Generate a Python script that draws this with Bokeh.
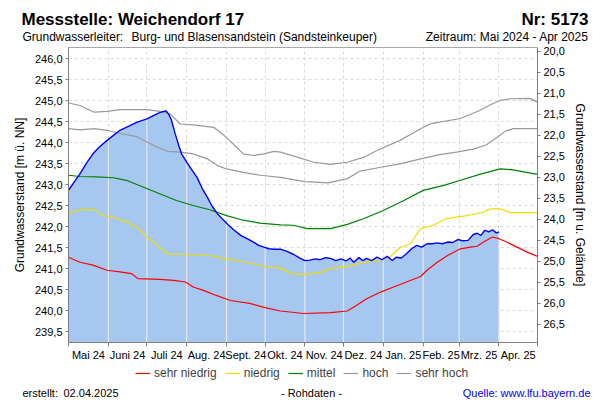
import numpy as np
import pandas as pd
from bokeh.plotting import figure
from bokeh.layouts import column
from bokeh.models import (Range1d, LinearAxis, FixedTicker, CustomJSTickFormatter,
                          Legend, LegendItem, Label)
from bokeh.embed import file_html
from bokeh.resources import INLINE

FONT = "Liberation Sans"
PERIOD_START = "2024-05-01"
PERIOD_END = "2025-05-01"
GROUND = 266.18  # Gelaendehoehe [m ü. NN]

# ---- data (x = days since 2024-05-01) ----
blue_day = [0, 4, 9, 14, 19, 24, 30, 35, 40, 47, 53, 61, 66, 70, 74, 76, 78, 80, 83, 86,
            88, 92, 96, 100, 104, 108, 112, 116, 120, 124, 129, 134, 139, 144, 148, 152, 156, 160, 165, 170,
            175, 180, 184, 188, 192, 196, 200, 204, 208, 212, 216, 219, 222, 226, 229, 232, 236, 240, 244, 248,
            252, 255, 259, 263, 267, 271, 275, 279, 283, 287, 291, 295, 299, 303, 307, 311, 315, 318, 321, 324,
            327, 330, 333, 335]
blue_level = [242.87, 243.05, 243.27, 243.52, 243.74, 243.90, 244.06, 244.18, 244.30, 244.40,
              244.49, 244.57, 244.65, 244.71, 244.75, 244.76, 244.68, 244.55, 244.22, 243.92,
              243.74, 243.54, 243.36, 243.18, 242.92, 242.71, 242.48, 242.31, 242.18, 242.06,
              241.92, 241.80, 241.72, 241.64, 241.56, 241.52, 241.48, 241.47, 241.47, 241.42,
              241.35, 241.26, 241.20, 241.21, 241.24, 241.22, 241.27, 241.25, 241.20, 241.24,
              241.19, 241.26, 241.16, 241.27, 241.20, 241.25, 241.20, 241.28, 241.22, 241.30,
              241.20, 241.28, 241.26, 241.36, 241.48, 241.56, 241.52, 241.60, 241.60, 241.62,
              241.60, 241.64, 241.63, 241.70, 241.67, 241.68, 241.82, 241.85, 241.80, 241.92,
              241.88, 241.93, 241.86, 241.88]

sehr_niedrig_day = [0, 9, 19, 30, 40, 49, 54, 71, 82, 91, 97, 105, 115, 126, 141, 153, 165, 183, 204, 217,
                    224, 232, 243, 253, 263, 274, 279, 287, 295, 305, 313, 318, 323, 330, 335, 341, 349, 357, 365]
sehr_niedrig = [241.28, 241.16, 241.09, 240.97, 240.93, 240.89, 240.77, 240.75, 240.73, 240.69,
                240.57, 240.49, 240.37, 240.25, 240.18, 240.08, 240.00, 239.94, 239.96, 240.00,
                240.13, 240.29, 240.45, 240.57, 240.69, 240.82, 240.97, 241.16, 241.32, 241.48,
                241.52, 241.54, 241.64, 241.76, 241.72, 241.64, 241.52, 241.40, 241.30]

niedrig_day = [0, 9, 20, 27, 35, 45, 53, 61, 69, 77, 92, 110, 123, 139, 154, 165, 173, 186, 196, 204,
               217, 227, 243, 250, 258, 266, 274, 284, 294, 310, 323, 328, 336, 344, 365]
niedrig = [242.33, 242.41, 242.41, 242.27, 242.23, 242.12, 242.00, 241.76, 241.56, 241.36,
           241.35, 241.32, 241.24, 241.16, 241.05, 241.02, 240.89, 240.87, 240.92, 241.01,
           241.06, 241.14, 241.22, 241.28, 241.51, 241.60, 241.96, 242.04, 242.20, 242.27,
           242.35, 242.43, 242.43, 242.34, 242.34]

mittel_day = [0, 9, 22, 35, 45, 58, 71, 84, 97, 110, 123, 136, 149, 165, 175, 186, 204, 217, 230, 245,
              261, 276, 292, 305, 320, 336, 346, 365]
mittel = [243.23, 243.20, 243.19, 243.17, 243.11, 242.95, 242.79, 242.63, 242.51, 242.41,
          242.27, 242.16, 242.09, 242.05, 242.04, 241.96, 241.96, 242.06, 242.20, 242.39,
          242.63, 242.87, 242.99, 243.11, 243.25, 243.38, 243.36, 243.25]

hoch_day = [0, 9, 20, 30, 40, 53, 61, 69, 77, 87, 97, 108, 116, 123, 136, 149, 165, 184, 202, 217,
            227, 243, 258, 274, 289, 302, 315, 325, 332, 340, 346, 365]
hoch = [244.34, 244.31, 244.34, 244.30, 244.23, 244.15, 244.02, 243.90, 243.80, 243.78,
        243.74, 243.62, 243.46, 243.38, 243.30, 243.23, 243.18, 243.08, 243.05, 243.15,
        243.33, 243.42, 243.50, 243.62, 243.72, 243.78, 243.85, 243.95, 244.10, 244.28,
        244.34, 244.34]

sehr_hoch_day = [0, 9, 20, 30, 40, 61, 71, 79, 87, 97, 113, 121, 128, 136, 144, 152, 160, 165, 178, 191,
                 204, 217, 230, 240, 258, 272, 282, 305, 320, 328, 336, 344, 359, 365]
sehr_hoch = [244.95, 244.89, 244.73, 244.75, 244.79, 244.79, 244.75, 244.69, 244.45, 244.43,
             244.37, 244.18, 243.98, 243.74, 243.70, 243.74, 243.80, 243.78, 243.66, 243.54,
             243.49, 243.54, 243.66, 243.82, 244.06, 244.30, 244.46, 244.58, 244.77, 244.90,
             245.01, 245.05, 245.06, 244.97]

month_labels = ["Mai 24", "Juni 24", "Juli 24", "Aug. 24", "Sept. 24", "Okt. 24", "Nov. 24",
                "Dez. 24", "Jan. 25", "Feb. 25", "Mrz. 25", "Apr. 25"]
left_ticks = [239.5, 240.0, 240.5, 241.0, 241.5, 242.0, 242.5, 243.0, 243.5, 244.0, 244.5,
              245.0, 245.5, 246.0]
right_ticks = [20.0, 20.5, 21.0, 21.5, 22.0, 22.5, 23.0, 23.5, 24.0, 24.5, 25.0, 25.5, 26.0, 26.5]
Y_BOTTOM, Y_TOP = 239.25, 246.27

series = [
    ("sehr niedrig", sehr_niedrig_day, sehr_niedrig, "#ff0000"),
    ("niedrig", niedrig_day, niedrig, "#f2dc00"),
    ("mittel", mittel_day, mittel, "#008000"),
    ("hoch", hoch_day, hoch, "#999999"),
    ("sehr hoch", sehr_hoch_day, sehr_hoch, "#999999"),
]

# ---- helpers ----
EPOCH = pd.Timestamp("1970-01-01")
start = pd.Timestamp(PERIOD_START)


def to_ms(ts):
    return (pd.DatetimeIndex(ts) - EPOCH) / pd.Timedelta(milliseconds=1)


def day_ms(days):
    return np.asarray(to_ms(start + pd.to_timedelta(days, unit="D")), dtype=float)


assert len(blue_day) == len(blue_level)
for _, d, v, _c in series:
    assert len(d) == len(v)

W = 600
HEAD_H, MAIN_H, FOOT_H = 44, 322, 34

month_starts = pd.date_range(PERIOD_START, PERIOD_END, freq="MS")
ms_starts = np.asarray(to_ms(month_starts), dtype=float)
ms_mid = (ms_starts[:-1] + ms_starts[1:]) / 2.0


def no_align(f):
    if "frame_align" in f.properties():
        f.frame_align = False


def text_panel(h):
    f = figure(width=W, height=h, x_range=Range1d(0, W), y_range=Range1d(0, h),
               x_axis_location=None, y_axis_location=None,
               output_backend="svg", toolbar_location=None, min_border=0)
    f.grid.visible = False
    f.outline_line_color = None
    f.background_fill_color = "white"
    f.border_fill_color = "white"
    no_align(f)
    return f


def add_text(f, x, y, text, size, align="left", bold=False, color="#000000"):
    f.add_layout(Label(x=x, y=y, text=text, text_font=FONT, text_font_size=size,
                       text_align=align, text_baseline="alphabetic", text_color=color,
                       text_font_style="bold" if bold else "normal"))


# ---- header ----
head = text_panel(HEAD_H)
add_text(head, 21, 25, "Messstelle: Weichendorf 17", "17px", bold=True)
add_text(head, 588, 25, "Nr: 5173", "17px", align="right", bold=True)
add_text(head, 22, 8, "Grundwasserleiter:", "12px")
add_text(head, 131, 8, "Burg- und Blasensandstein (Sandsteinkeuper)", "12px")
add_text(head, 588, 8, "Zeitraum: Mai 2024 - Apr 2025", "12px", align="right")

# ---- main plot ----
p = figure(width=W, height=MAIN_H, x_axis_type="datetime",
           x_range=Range1d(ms_starts[0], ms_starts[-1]),
           y_range=Range1d(Y_BOTTOM, Y_TOP),
           output_backend="svg", toolbar_location=None,
           min_border_left=68, min_border_right=63, min_border_top=3, min_border_bottom=24)
no_align(p)
p.background_fill_color = "white"
p.border_fill_color = "white"
p.outline_line_color = "#a8a8a8"

p.ygrid.grid_line_color = "#d9d9d9"
p.ygrid.grid_line_dash = "3 3"
p.xgrid.ticker = FixedTicker(ticks=list(ms_starts))
p.xgrid.grid_line_color = "#d9d9d9"
p.xgrid.grid_line_dash = "3 3"

bx = day_ms(blue_day)
p.varea(x=bx, y1=Y_BOTTOM, y2=blue_level, fill_color="#a6c8f0")

inside = [m for m in ms_starts if bx[0] < m <= bx[-1]]
p.segment(x0=inside, x1=inside, y0=[Y_BOTTOM] * len(inside),
          y1=list(np.interp(inside, bx, blue_level)), line_color="#e6e6e6", line_width=1.2)

for name, d, v, col in series:
    p.line(day_ms(d), v, line_color=col, line_width=1.2)

p.line(bx, blue_level, line_color="#0000ff", line_width=1.4)

fmt = CustomJSTickFormatter(code="return tick.toFixed(1).replace('.', ',');")
AX_COL = "#808080"

yl = p.yaxis[0]
yl.ticker = FixedTicker(ticks=left_ticks)
yl.formatter = fmt
yl.axis_label = "Grundwasserstand [m ü. NN]"

yr = LinearAxis(y_range_name="depth", ticker=FixedTicker(ticks=right_ticks), formatter=fmt,
                axis_label="Grundwasserstand [m u. Gelände]")
p.extra_y_ranges = {"depth": Range1d(GROUND - Y_BOTTOM, GROUND - Y_TOP)}
p.add_layout(yr, "right")

for ax in (yl, yr):
    ax.major_tick_out = 3
    ax.major_tick_in = 0
    ax.minor_tick_line_color = None
    ax.major_label_standoff = 3
    ax.axis_label_standoff = 5
    ax.axis_label_text_font = FONT
    ax.axis_label_text_font_size = "12px"
    ax.axis_label_text_font_style = "normal"
    ax.axis_label_text_color = "#000000"
    ax.major_tick_line_color = AX_COL

xa = p.xaxis[0]
xa.ticker = FixedTicker(ticks=list(ms_mid), minor_ticks=list(ms_starts))
xa.formatter = CustomJSTickFormatter(
    args=dict(mids=list(ms_mid), labs=month_labels),
    code="""
let best = 0;
for (let i = 0; i < mids.length; i++) {
  if (Math.abs(mids[i] - tick) < Math.abs(mids[best] - tick)) best = i;
}
return labs[best];
""")
xa.major_tick_line_color = None
xa.major_tick_out = 4
xa.major_tick_in = 0
xa.minor_tick_out = 4
xa.minor_tick_in = 0
xa.minor_tick_line_color = AX_COL
xa.major_label_standoff = 2

for ax in (yl, yr, xa):
    ax.axis_line_color = AX_COL
    ax.major_label_text_font = FONT
    ax.major_label_text_font_size = "11px"
    ax.major_label_text_color = "#000000"

# ---- footer: legend + notes ----
foot = text_panel(FOOT_H)
items = []
for name, d, v, col in series:
    # same series drawn in the footer panel (outside its visible range) as legend keys
    r = foot.line(day_ms(d), v, line_color=col, line_width=1.2)
    items.append(LegendItem(label=name, renderers=[r]))
legend = Legend(items=items, location=(135, 20), orientation="horizontal",
                glyph_width=15, glyph_height=14, label_height=14, label_standoff=4,
                spacing=8, padding=0, margin=0, border_line_color=None,
                background_fill_alpha=0, label_text_font=FONT, label_text_font_size="12px")
foot.add_layout(legend)

add_text(foot, 22, 8, "erstellt:", "11px")
add_text(foot, 63, 8, "02.04.2025", "11px")
add_text(foot, 311, 8, "- Rohdaten -", "11px", align="center")
add_text(foot, 590, 8, "Quelle: www.lfu.bayern.de", "11px", align="right", color="#0000ff")

layout = column(head, p, foot, spacing=0)
open("out.html", "w").write(file_html(layout, INLINE))
